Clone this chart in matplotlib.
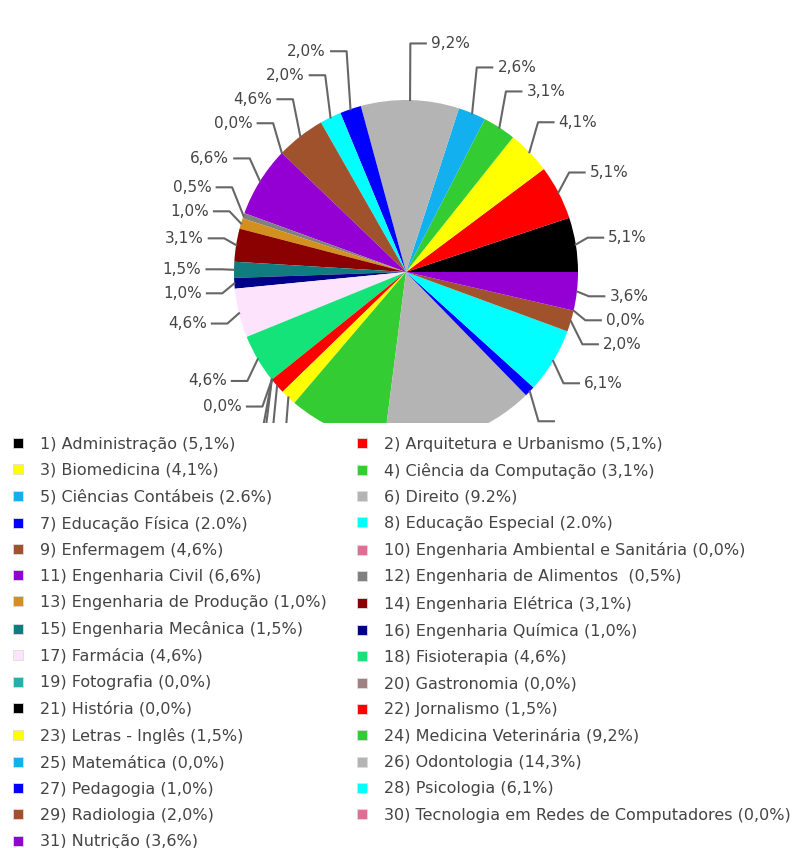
import numpy as np
import matplotlib
matplotlib.use("Agg")
import matplotlib.pyplot as plt
from matplotlib.lines import Line2D
from matplotlib.patches import Rectangle

legend_labels = [
    "1) Administração (5,1%)", "2) Arquitetura e Urbanismo (5,1%)",
    "3) Biomedicina (4,1%)", "4) Ciência da Computação (3,1%)",
    "5) Ciências Contábeis (2.6%)", "6) Direito (9.2%)",
    "7) Educação Física (2.0%)", "8) Educação Especial (2.0%)",
    "9) Enfermagem (4,6%)", "10) Engenharia Ambiental e Sanitária (0,0%)",
    "11) Engenharia Civil (6,6%)", "12) Engenharia de Alimentos  (0,5%)",
    "13) Engenharia de Produção (1,0%)", "14) Engenharia Elétrica (3,1%)",
    "15) Engenharia Mecânica (1,5%)", "16) Engenharia Química (1,0%)",
    "17) Farmácia (4,6%)", "18) Fisioterapia (4,6%)",
    "19) Fotografia (0,0%)", "20) Gastronomia (0,0%)",
    "21) História (0,0%)", "22) Jornalismo (1,5%)",
    "23) Letras - Inglês (1,5%)", "24) Medicina Veterinária (9,2%)",
    "25) Matemática (0,0%)", "26) Odontologia (14,3%)",
    "27) Pedagogia (1,0%)", "28) Psicologia (6,1%)",
    "29) Radiologia (2,0%)", "30) Tecnologia em Redes de Computadores (0,0%)",
    "31) Nutrição (3,6%)",
]
values = [5.1, 5.1, 4.1, 3.1, 2.6, 9.2, 2.0, 2.0, 4.6, 0.0, 6.6, 0.5, 1.0, 3.1, 1.5, 1.0,
          4.6, 4.6, 0.0, 0.0, 0.0, 1.5, 1.5, 9.2, 0.0, 14.3, 1.0, 6.1, 2.0, 0.0, 3.6]
colors = ["#000000", "#ff0000", "#ffff00", "#33cc33", "#12b0ee", "#b4b4b4", "#0000ff", "#00ffff",
          "#a0522d", "#db7093", "#9400d3", "#808080", "#d4901e", "#8b0000", "#107c80", "#000088",
          "#fde3fb", "#14e37a", "#20b2aa", "#a08080", "#000000", "#ff0000", "#ffff00", "#33cc33",
          "#12b0ee", "#b4b4b4", "#0000ff", "#00ffff", "#a0522d", "#db7093", "#9400d3"]

W, H = 796, 848
cx, cy, r = 406, 272, 172  # pie centre / radius in pixels
cover_top = 423             # legend area starts here (pixels from top)

fig = plt.figure(figsize=(W / 100, H / 100), dpi=100)
ax = fig.add_axes([0, 0, 1, 1])

wedges, _ = ax.pie(values, colors=colors, startangle=0, counterclock=True, radius=1,
                   wedgeprops=dict(linewidth=0))
# pie() sets its own limits and equal aspect; replace them so 1 unit = r pixels
ax.set_aspect("auto")
ax.set_xlim(-cx / r, (W - cx) / r)
ax.set_ylim(-(H - cy) / r, cy / r)
ax.axis("off")

# labels with leader lines, spread vertically per side
R_lab, d = 1.25, 24 / r
mids = np.array([np.deg2rad((w.theta1 + w.theta2) / 2) for w in wedges])
sides = np.where(np.cos(mids) + 1e-9 >= 0, 1, -1)
y0 = R_lab * np.sin(mids)
ylab = y0.copy()
for side in (1, -1):
    idx = [i for i in range(len(values)) if sides[i] == side]
    up = sorted([i for i in idx if y0[i] >= 0], key=lambda i: y0[i])
    down = sorted([i for i in idx if y0[i] < 0], key=lambda i: -y0[i])
    prev = -np.inf
    for i in up:
        ylab[i] = max(y0[i], prev + d)
        prev = ylab[i]
    prev = ylab[up[0]] if up else np.inf
    for i in down:
        ylab[i] = min(y0[i], prev - d)
        prev = ylab[i]

y_cut = -(cover_top - cy) / r
for i, v in enumerate(values):
    th, s = mids[i], sides[i]
    xe, ye = np.cos(th), np.sin(th)
    xk = xe * 1.07
    xh = xk + s * 0.09
    ax.plot([xe, xk, xh], [ye, ylab[i], ylab[i]], color="#666666", lw=1.5,
            solid_joinstyle="round", zorder=1)
    # labels that fall under the legend area are not shown
    if ylab[i] > y_cut + 0.03:
        ax.text(xh + s * 0.03, ylab[i], f"{v:.1f}%".replace(".", ","), fontsize=11,
                color="#444444", ha="left" if s > 0 else "right", va="center")

# white area under the legend hides the lower part of the pie
fig.patches.append(Rectangle((0, 0), 1, (H - cover_top) / H, transform=fig.transFigure,
                             facecolor="white", edgecolor="none", zorder=2))

handles = [Line2D([], [], marker="s", linestyle="none", markersize=6.5,
                  markerfacecolor=c, markeredgecolor="#dddddd", markeredgewidth=0.6)
           for c in colors]
top = 1 - 436.5 / H
for col, x0 in ((0, 12 / W), (1, 356 / W)):
    fig.legend(handles[col::2], legend_labels[col::2], loc="upper left",
               bbox_to_anchor=(x0, top), frameon=False, fontsize=11.5,
               labelcolor="#444444", handlelength=0.73, handletextpad=1.02,
               borderpad=0, borderaxespad=0, labelspacing=0.70)

fig.savefig("out.png", dpi=100, facecolor="white")
